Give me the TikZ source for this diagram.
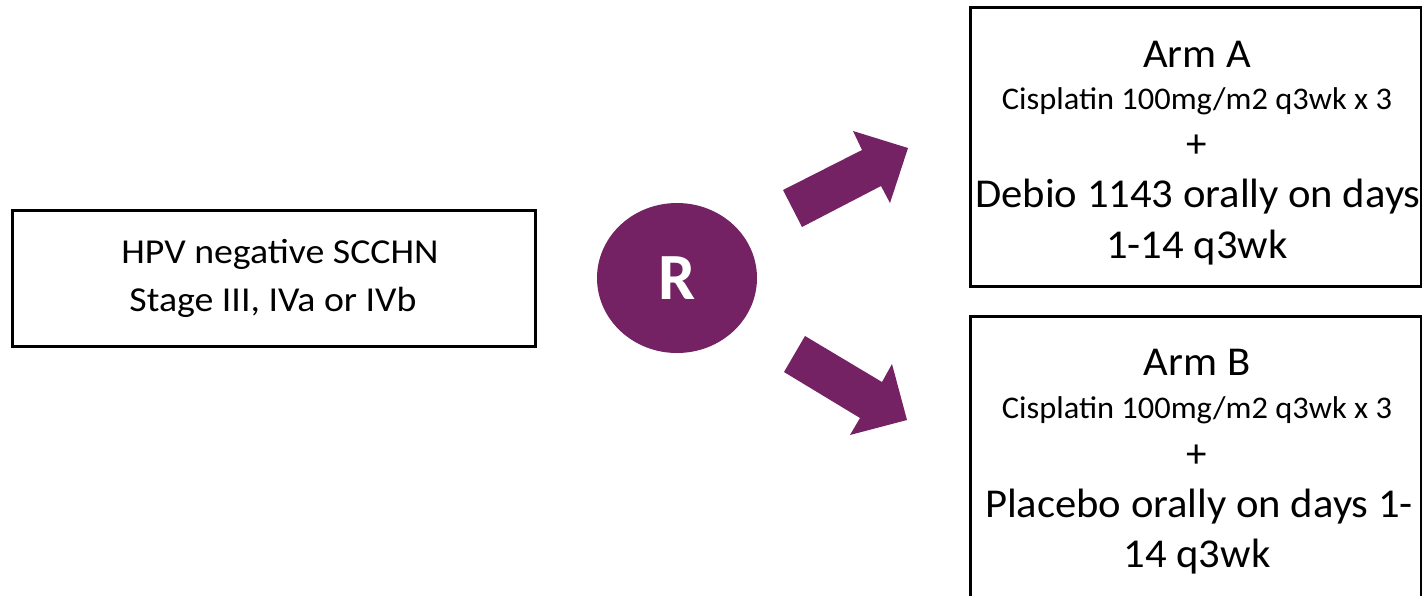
\documentclass[tikz,border=0pt]{standalone}
\usepackage{fontspec}
\usepackage{graphicx}
\setmainfont{Carlito}
\usetikzlibrary{shapes.geometric}
\definecolor{rpurple}{HTML}{742264}
\newcommand{\wide}[2]{\scalebox{#1}[1]{#2}}
\tikzset{
  box/.style={draw=black, line width=3pt, rectangle, inner sep=0pt},
  line/.style={inner sep=0pt, anchor=base, text=black},
  big/.style={line, font=\fontsize{41}{48}\selectfont},
  small/.style={line, font=\fontsize{31.5}{37}\selectfont},
  lefttxt/.style={line, font=\fontsize{35}{40}\selectfont},
  blockarrow/.style={fill=rpurple, draw=none},
}
\begin{document}
\begin{tikzpicture}[x=1pt, y=-1pt]
\useasboundingbox (0,0) rectangle (1422,595);
\clip (0,0) rectangle (1422,595);
% left box
\node[box, minimum width=523pt, minimum height=136pt] (start) at (273.5,278) {};
\node[lefttxt] (l1) at (280,263) {\wide{1.08}{HPV negative SCCHN}};
\node[lefttxt] (l2) at (273,311) {\wide{1.08}{Stage III, IVa or IVb}};
% randomisation
\node[ellipse, fill=rpurple, minimum width=160pt, minimum height=150pt, inner sep=0pt] (R) at (677,278) {};
\node[line, text=white, font=\fontsize{66}{70}\selectfont\bfseries, anchor=center] (Rt) at (677,278) {R};
% arm A
\node[box, minimum width=451pt, minimum height=279pt] (armA) at (1195.5,146.5) {};
\node[big] (a1) at (1197,67) {\wide{1.04}{Arm A}};
\node[small] (a2) at (1197,109) {\wide{1.03}{Cisplatin 100mg/m2 q3wk x 3}};
\node[big] (a3) at (1197,157) {+};
\node[big] (a4) at (1198,207) {\wide{1.04}{Debio 1143 orally on days}};
\node[big] (a5) at (1197,258) {\wide{1.04}{1-14 q3wk}};
% arm B
\node[box, minimum width=451pt, minimum height=294pt] (armB) at (1195.5,463) {};
\node[big] (b1) at (1197,375) {\wide{1.04}{Arm B}};
\node[small] (b2) at (1197,418) {\wide{1.03}{Cisplatin 100mg/m2 q3wk x 3}};
\node[big] (b3) at (1197,467) {+};
\node[big] (b4) at (1199,517) {\wide{1.04}{Placebo orally on days 1-}};
\node[big] (b5) at (1197,567) {\wide{1.04}{14 q3wk}};
% block arrows
\fill[blockarrow] (783,190) -- (862,150) -- (853,131) -- (908,148) -- (890,203) -- (881,186) -- (802,227) -- cycle;
\fill[blockarrow] (805,336) -- (882,382) -- (892,364) -- (907,420) -- (850,435) -- (860,418) -- (784,372) -- cycle;
\end{tikzpicture}
\end{document}
